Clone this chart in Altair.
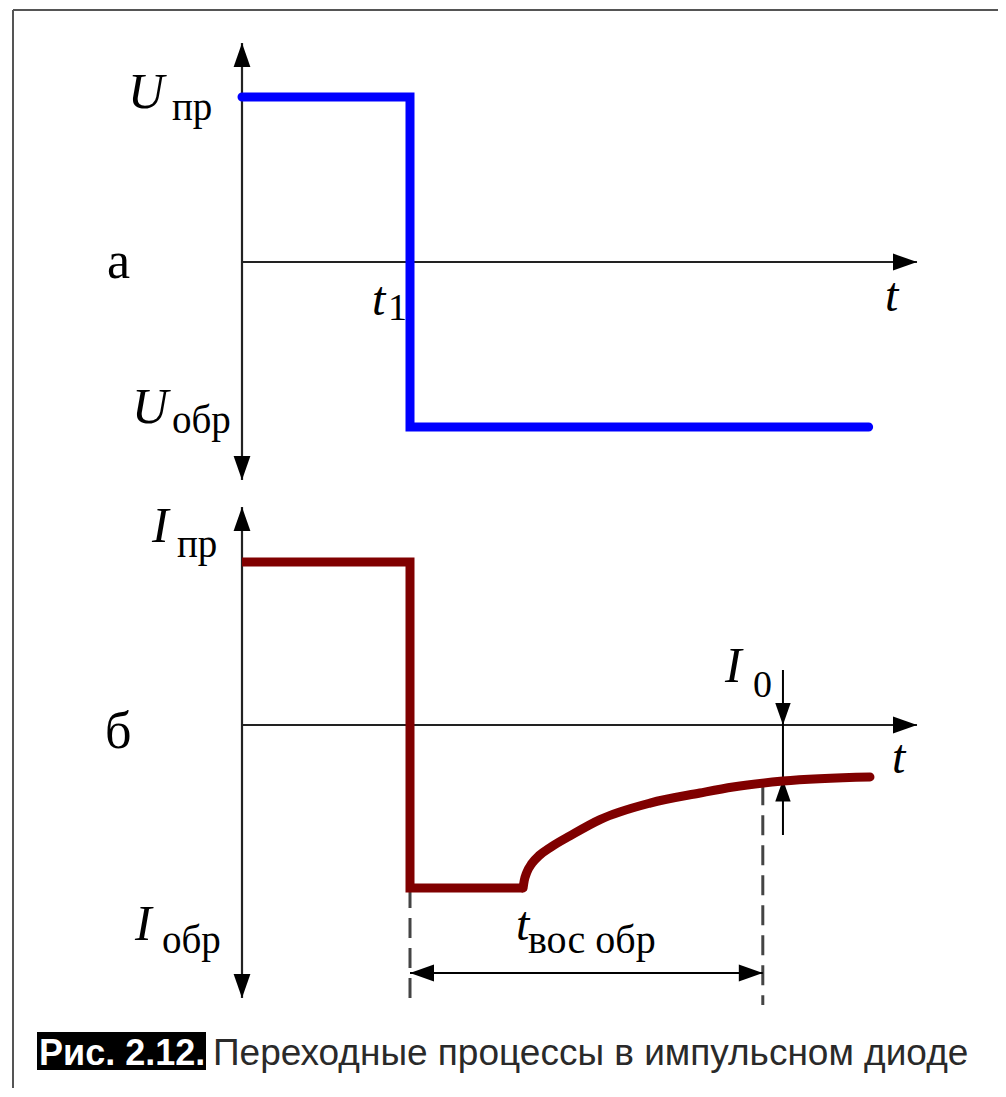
import altair as alt
import pandas as pd

# ---------------- data ----------------
# panel "а": applied voltage
u_t = [0.0, 1.0, 1.0, 3.73]
u_v = [1.0, 1.0, -1.0, -1.0]
# panel "б": diode current, step part
i_step_t = [0.0, 1.0, 1.0, 1.673]
i_step_v = [1.0, 1.0, -1.0, -1.0]
# panel "б": diode current, recovery part
i_rec_t = [1.673, 1.680, 1.695, 1.725, 1.770, 1.840, 1.952, 2.131, 2.429, 2.726, 2.923, 3.220, 3.738]
i_rec_v = [-1.0, -0.955, -0.905, -0.850, -0.800, -0.748, -0.680, -0.580, -0.479, -0.417, -0.380, -0.344, -0.319]
t1 = 1.0          # switching moment
t_rec = 3.10      # end of reverse recovery time
t_i0 = 3.22       # where I0 is marked
i0 = -0.335       # steady reverse current level
i_at_rec = -0.37  # current at end of recovery
t_axis_end = 4.018
caption_num = "Рис. 2.12."
caption_text = "Переходные процессы в импульсном диоде"

# ---------------- layout / styles ----------------
W, H = 990, 1080
OX, OY = 8, 8
T0_PX, PX_T = 242, 168
U0_PX, PX_U = 262, 165
I0_PX, PX_I = 725, 163
x_dom = [(OX - T0_PX) / PX_T, (OX + W - T0_PX) / PX_T]
u_dom = [(U0_PX - (OY + H)) / PX_U, (U0_PX - OY) / PX_U]
i_dom = [(I0_PX - (OY + H)) / PX_I, (I0_PX - OY) / PX_I]

xs = alt.Scale(domain=x_dom, nice=False, zero=False)
ysU = alt.Scale(domain=u_dom, nice=False, zero=False)
ysI = alt.Scale(domain=i_dom, nice=False, zero=False)

SERIF = "Liberation Serif"
SANS = "Liberation Sans"
ARROW = "M0,0L0.7,2L-0.7,2Z"   # tip at origin, pointing up
AXIS_C = "#222222"

one = pd.DataFrame({"k": [0]})


def xd(v):
    return alt.XDatum(v, scale=xs, axis=None)


def yd(v, ys):
    return alt.YDatum(v, scale=ys, axis=None)


def seg(ta, va, tb, vb, ys, color=AXIS_C, width=2.2, dash=None):
    kw = dict(color=color, strokeWidth=width)
    if dash:
        kw["strokeDash"] = dash
    return alt.Chart(one).mark_rule(**kw).encode(
        x=xd(ta), x2=alt.X2Datum(tb), y=yd(va, ys), y2=alt.Y2Datum(vb)
    )


def arrow(t, v, ys, angle, size=576):
    return alt.Chart(one).mark_point(
        shape=ARROW, size=size, angle=angle, filled=True, color="black", opacity=1, strokeWidth=0
    ).encode(x=xd(t), y=yd(v, ys))


def label(text, t, v, ys, dx, dy, size, italic=False):
    kw = dict(text=text, font=SERIF, fontSize=size, align="left", baseline="alphabetic",
              dx=dx, dy=dy, color="black")
    if italic:
        kw["fontStyle"] = "italic"
    return alt.Chart(one).mark_text(**kw).encode(x=xd(t), y=yd(v, ys))


def curve(ts, vs, ys, color, interp="linear", cap="round"):
    df = pd.DataFrame({"t": ts, "v": vs, "i": list(range(len(ts)))})
    return alt.Chart(df).mark_line(
        color=color, strokeWidth=9, strokeCap=cap, strokeJoin="miter", interpolate=interp
    ).encode(
        x=alt.X("t:Q", scale=xs, axis=None),
        y=alt.Y("v:Q", scale=ys, axis=None),
        order=alt.Order("i:Q"),
    )


# ---------------- panel а ----------------
ua_top, ua_bot = (U0_PX - 43) / PX_U, (U0_PX - 480) / PX_U
panel_a = alt.layer(
    seg(0, ua_bot, 0, ua_top, ysU),
    seg(0, 0, t_axis_end, 0, ysU),
    arrow(0, ua_top, ysU, 0),
    arrow(0, ua_bot, ysU, 180),
    arrow(t_axis_end, 0, ysU, 90),
    curve(u_t, u_v, ysU, "#0000ff"),
    label("U", 0, 1, ysU, -114, 11, 50, True),
    label("пр", 0, 1, ysU, -70, 23, 39),
    label("U", 0, -1, ysU, -110, -4, 50, True),
    label("обр", 0, -1, ysU, -70, 6, 39),
    label("а", 0, 0, ysU, -135, 16, 52),
    label("t", t1, 0, ysU, -38, 53, 48, True),
    label("1", t1, 0, ysU, -22, 58, 38),
    label("t", t_axis_end, 0, ysU, -32, 49, 48, True),
)

# ---------------- panel б ----------------
ib_top, ib_bot = (I0_PX - 507) / PX_I, (I0_PX - 998) / PX_I
span_v = (I0_PX - 973) / PX_I
dash_l_end = (I0_PX - 1000) / PX_I
dash_r_end = (I0_PX - 1005) / PX_I
i0_top, i0_bot = (I0_PX - 670) / PX_I, (I0_PX - 835) / PX_I
panel_b = alt.layer(
    seg(0, ib_bot, 0, ib_top, ysI),
    seg(0, 0, t_axis_end, 0, ysI),
    arrow(0, ib_top, ysI, 0),
    arrow(0, ib_bot, ysI, 180),
    arrow(t_axis_end, 0, ysI, 90),
    seg(t1, -1, t1, dash_l_end, ysI, "#444444", 3, [20, 10]),
    seg(t_rec, i_at_rec, t_rec, dash_r_end, ysI, "#444444", 3, [20, 10]),
    seg(t1, span_v, t_rec, span_v, ysI, "black", 2),
    arrow(t1, span_v, ysI, 270),
    arrow(t_rec, span_v, ysI, 90),
    seg(t_i0, i0_top, t_i0, i0_bot, ysI, "black", 2),
    arrow(t_i0, 0, ysI, 180, 484),
    arrow(t_i0, i0, ysI, 0, 484),
    curve(i_step_t, i_step_v, ysI, "#800000", "linear", "butt"),
    curve(i_rec_t, i_rec_v, ysI, "#800000", "monotone", "round"),
    label("I", 0, 1, ysI, -90, -20, 50, True),
    label("пр", 0, 1, ysI, -65, -5, 39),
    label("I", 0, -1, ysI, -107, 52, 50, True),
    label("обр", 0, -1, ysI, -80, 65, 39),
    label("б", 0, 0, ysI, -137, 23, 52),
    label("t", t_axis_end, 0, ysI, -25, 48, 48, True),
    label("I", t_i0, 0, ysI, -58, -43, 50, True),
    label("0", t_i0, 0, ysI, -30, -28, 38),
    label("t", t1, span_v, ysI, 106, -33, 48, True),
    label("вос обр", t1, span_v, ysI, 118, -20, 40),
)

# ---------------- frame & caption ----------------
deco = alt.layer(
    alt.Chart(one).mark_rule(color="#555555", strokeWidth=2).encode(
        x=alt.value(5), x2=alt.value(W), y=alt.value(2)),
    alt.Chart(one).mark_rule(color="#555555", strokeWidth=2).encode(
        x=alt.value(5), y=alt.value(2), y2=alt.value(H)),
    alt.Chart(one).mark_rect(color="black").encode(
        x=alt.value(29), x2=alt.value(198), y=alt.value(1024), y2=alt.value(1062)),
    alt.Chart(one).mark_text(text=caption_num, font=SANS, fontSize=36, fontWeight="bold",
                             color="white", align="left", baseline="alphabetic").encode(
        x=alt.value(31), y=alt.value(1057)),
    alt.Chart(one).mark_text(text=caption_text, font=SANS, fontSize=37, color="#2a2a2a",
                             align="left", baseline="alphabetic").encode(
        x=alt.value(205), y=alt.value(1057)),
)

chart = alt.layer(panel_a, panel_b, deco).resolve_scale(y="independent").properties(
    width=W, height=H, padding=0, autosize="none", background="white"
).configure_view(stroke=None)

chart.save("out.html", embed_options={"renderer": "svg", "actions": False})
